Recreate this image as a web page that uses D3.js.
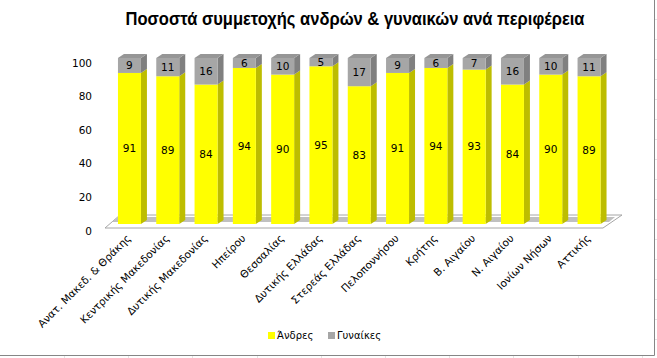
<!DOCTYPE html>
<html><head><meta charset="utf-8">
<script src="https://cdn.jsdelivr.net/npm/d3@7"></script>
<style>html,body{margin:0;padding:0;background:#fff;}svg{display:block;}</style>
</head><body>
<svg id="c" width="657" height="358"></svg>
<script>
const categories = ["Ανατ. Μακεδ. & Θράκης","Κεντρικής Μακεδονίας","Δυτικής Μακεδονίας","Ηπείρου","Θεσσαλίας","Δυτικής Ελλάδας","Στερεάς Ελλάδας","Πελοποννήσου","Κρήτης","Β. Αιγαίου","Ν. Αιγαίου","Ιονίων Νήσων","Αττικής"];
const men   = [91,89,84,94,90,95,83,91,94,93,84,90,89];
const women = [9,11,16,6,10,5,17,9,6,7,16,10,11];
const yTicks = [0,20,40,60,80,100];
const seriesNames = ["Άνδρες","Γυναίκες"];

const svg = d3.select("#c");
const W = 657, H = 358;
const font = "'DejaVu Sans', Verdana, sans-serif";

// faint spreadsheet grid outside chart area
const g0 = svg.append("g");
for (let y = 19; y < H; y += 20) g0.append("line").attr("x1",655).attr("x2",657).attr("y1",y+0.5).attr("y2",y+0.5).attr("stroke","#e4e4e4");
for (let x = 64; x < W; x += 64.2) g0.append("line").attr("x1",Math.round(x)+0.5).attr("x2",Math.round(x)+0.5).attr("y1",356).attr("y2",358).attr("stroke","#e4e4e4");

// chart border
svg.append("line").attr("x1",0).attr("x2",654.5).attr("y1",355.5).attr("y2",355.5).attr("stroke","#868686");
svg.append("line").attr("x1",654.5).attr("x2",654.5).attr("y1",0).attr("y2",355.5).attr("stroke","#868686");

// title
svg.append("text").attr("x",355).attr("y",25).attr("text-anchor","middle")
  .attr("font-family","'Liberation Sans', Arial, sans-serif").attr("font-weight","bold").attr("font-size",18)
  .attr("textLength",459).attr("lengthAdjust","spacingAndGlyphs")
  .text("Ποσοστά συμμετοχής ανδρών & γυναικών ανά περιφέρεια");

const x = d3.scaleBand().domain(categories).range([110.3, 110.3 + 13*38.3]).paddingInner(0.4).paddingOuter(0.2);
const y = d3.scaleLinear().domain([0,100]).range([224, 58]);
const yLab = d3.scaleLinear().domain([0,100]).range([231, 63]);
const dx = 6, dy = -4;

// floor
const fl = {fl:[105,228], fr:[603,228], br:[622,215], bl:[120,215]};
svg.append("polygon").attr("points",[fl.fl,fl.fr,fl.br,fl.bl].map(p=>p.join(",")).join(" "))
  .attr("fill","#fff").attr("stroke","#a6a6a6").attr("stroke-width",1);
svg.append("polygon").attr("points",[[112,222],[609,222],[615,217],[118,217]].map(p=>p.join(",")).join(" "))
  .attr("fill","#c0c0c0");

// y axis labels
svg.append("g").selectAll("text").data(yTicks).join("text")
  .attr("x",92).attr("y",d=>yLab(d)).attr("dy","0.35em").attr("text-anchor","end")
  .attr("font-family",font).attr("font-size",10.5).attr("fill","#000").text(d=>d);

// bars
const colors = {
  men:   {front:"#FFFF00", side:"#BDBD00", top:"#E6E600"},
  women: {front:"#A6A6A6", side:"#808080", top:"#969696"}
};
const bars = svg.append("g");
categories.forEach((c,i) => {
  const x0 = x(c), bw = x.bandwidth(), x1 = x0 + bw;
  const segs = [{v0:0, v1:men[i], col:colors.men, val:men[i]}, {v0:men[i], v1:men[i]+women[i], col:colors.women, val:women[i]}];
  segs.forEach((s, k) => {
    const yt = y(s.v1), yb = y(s.v0);
    bars.append("polygon").attr("points",[[x1,yb],[x1+dx,yb+dy],[x1+dx,yt+dy],[x1,yt]].map(p=>p.join(",")).join(" ")).attr("fill",s.col.side);
    bars.append("rect").attr("x",x0).attr("y",yt).attr("width",bw).attr("height",yb-yt).attr("fill",s.col.front);
    if (k === segs.length-1) {
      bars.append("polygon").attr("points",[[x0,yt],[x1,yt],[x1+dx,yt+dy],[x0+dx,yt+dy]].map(p=>p.join(",")).join(" ")).attr("fill",s.col.top);
    }
    bars.append("text").attr("x",x0+bw/2).attr("y",(yt+yb)/2).attr("dy","0.35em").attr("text-anchor","middle")
      .attr("font-family",font).attr("font-size",10.5).attr("fill","#000").text(s.val);
  });
});

// category labels
svg.append("g").selectAll("text").data(categories).join("text")
  .attr("transform",d=>`translate(${x(d)+x.bandwidth()/2+2},239) rotate(-45)`)
  .attr("text-anchor","end").attr("font-family",font).attr("font-size",10.5).attr("fill","#000").text(d=>d);

// legend
const lg = svg.append("g");
const lx = [268, 328];
[colors.men.front, colors.women.front].forEach((col,k) => {
  lg.append("rect").attr("x",lx[k]).attr("y",332).attr("width",7).attr("height",7).attr("fill",col);
  lg.append("text").attr("x",lx[k]+9).attr("y",339).attr("font-family",font).attr("font-size",10).attr("fill","#000").text(seriesNames[k]);
});
</script>
</body></html>
